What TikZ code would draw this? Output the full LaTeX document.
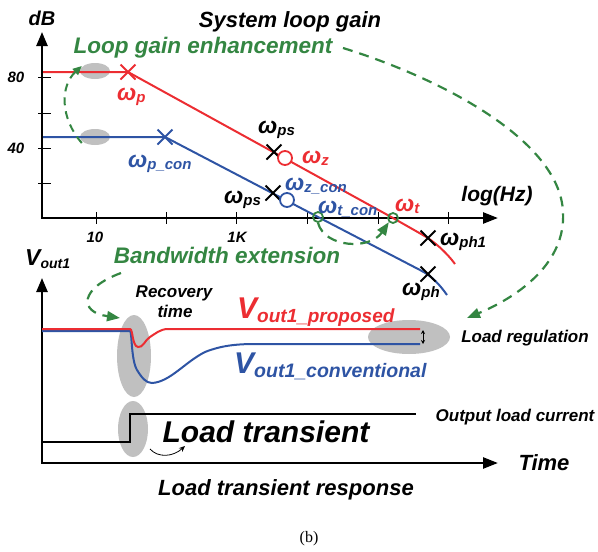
\documentclass[tikz,border=0pt]{standalone}
\usepackage{fontspec}
\setmainfont{Liberation Sans}
\newfontfamily\serifb{Liberation Serif}
\usetikzlibrary{arrows.meta,shapes.geometric,shapes.misc}
\definecolor{cred}{RGB}{236,45,50}
\definecolor{cblue}{RGB}{46,84,164}
\definecolor{cgreen}{RGB}{52,134,66}
\definecolor{cgray}{RGB}{192,192,192}
\newcommand\fs[1]{\fontsize{#1}{#1}\selectfont}
\newcommand\om[1]{{\fs{23}ω}\raisebox{-2.5pt}{\fs{15}#1}}
\begin{document}
\begin{tikzpicture}[x=1pt,y=-1pt,font=\bfseries\itshape,
  every node/.style={inner sep=0pt},
  axis/.style={line width=2.5pt,{Triangle[length=14pt,width=11pt]}-{Triangle[length=15pt,width=11pt]}},
  tickmark/.style={line width=1pt},
  redline/.style={cred,line width=2pt},
  blueline/.style={cblue,line width=2pt},
  gdash/.style={cgreen,line width=2.2pt,dash pattern=on 10pt off 7pt},
  garrow/.style={-{Triangle[length=13pt,width=10pt]}},
  blob/.style={ellipse,fill=cgray,draw=none},
  xmark/.style={cross out,draw,line width=2pt,minimum size=13pt},
  ring/.style={circle,draw,line width=1.8pt,fill=white,minimum size=14pt},
  gring/.style={circle,draw=cgreen,line width=1.8pt,minimum size=10pt},
  lbl/.style={anchor=base},
  lblw/.style={anchor=base west}]
\useasboundingbox (0,0) rectangle (598,552);

% ---------- upper plot ----------
\node[blob,minimum width=30pt,minimum height=16pt] (e1) at (95,71) {};
\node[blob,minimum width=30pt,minimum height=16pt] (e2) at (95,137) {};

\coordinate (Y1) at (42,32);
\coordinate (O1) at (42,218);
\coordinate (X1) at (498,218);
\draw[axis] (Y1) -- (O1) -- (X1);
\foreach \y in {77,113,148,183} \draw[tickmark] (38,\y) -- (51,\y);
\foreach \x in {96,166,236,307,378,448} \draw[tickmark] (\x,212) -- (\x,224);

% red curve
\coordinate (r0) at (43,72);
\coordinate (rp) at (128,72);
\coordinate (rps) at (274,152);
\coordinate (rz) at (285,158);
\coordinate (rt) at (393,218);
\coordinate (rph) at (428,238);
\coordinate (r9) at (455,264);
\draw[redline] (r0) -- (rp) -- (rt) -- (422,234.5) .. controls (434,241) and (447,253) .. (r9);
% blue curve
\coordinate (b0) at (43,137);
\coordinate (bp) at (165,137);
\coordinate (bps) at (273,193);
\coordinate (bz) at (287,200);
\coordinate (bt) at (318,217);
\coordinate (bph) at (428,274);
\coordinate (b9) at (447,295);
\draw[blueline] (b0) -- (bp) -- (bt) -- (420,270) .. controls (432,276) and (440,285) .. (b9);

\node[xmark,draw=cred] (xp) at (rp) {};
\node[xmark,draw=cblue] (xpc) at (bp) {};
\node[xmark] (xps1) at (rps) {};
\node[ring,draw=cred] (cz) at (rz) {};
\node[xmark] (xps2) at (bps) {};
\node[ring,draw=cblue] (czc) at (bz) {};
\node[gring] (ctc) at (bt) {};
\node[gring] (ct) at (rt) {};
\node[xmark] (xph1) at (rph) {};
\node[xmark] (xph) at (bph) {};

% labels
\node[lbl] (dB) at (42,25) {\fs{20}dB};
\node[lbl] (title) at (290,27) {\fs{22}System loop gain};
\node[lbl,text=cgreen] (lge) at (203,53) {\fs{22.5}Loop gain enhancement};
\node[lbl] (t80) at (16,82) {\fs{15}80};
\node[lbl] (t40) at (16,153) {\fs{15}40};
\node[lbl] (t10) at (95,242) {\fs{15}10};
\node[lbl] (t1k) at (237,242) {\fs{15}1K};
\node[lbl] (logHz) at (497,201) {\fs{21}log(Hz)};
\node[lblw,text=cred] (lwp) at (117,100) {\om{p}};
\node[lblw,text=cblue] (lwpc) at (128,167) {\om{p\_con}};
\node[lblw] (lwps1) at (258,133) {\om{ps}};
\node[lblw] (lwps2) at (224,203) {\om{ps}};
\node[lblw,text=cred] (lwz) at (302,163) {\om{z}};
\node[lblw,text=cblue] (lwzc) at (285,190) {\om{z\_con}};
\node[lblw,text=cblue] (lwtc) at (318,213) {\om{t\_con}};
\node[lblw,text=cred] (lwt) at (395,211) {\om{t}};
\node[lblw] (lwph1) at (440,245) {\om{ph1}};
\node[lblw] (lwph) at (402,295) {\om{ph}};
\node[lbl,text=cgreen] (bwe) at (227,263) {\fs{22.5}Bandwidth extension};

% green dashed arrows
\coordinate (ga0) at ([xshift=2pt,yshift=-6pt]e2.west);
\coordinate (ga1) at ([xshift=2pt,yshift=5pt]e1.west);
\draw[cgreen,line width=2pt,dash pattern=on 8pt off 6pt,-{Triangle[length=9pt,width=8pt]}]
  (ga0) .. controls (60,118) and (60,86) .. (ga1);
\draw[gdash,garrow] (ctc.south) .. controls (325,248) and (370,250) .. (ct.south west);
\coordinate (gs) at (343,48);
\coordinate (gm) at (563,212);
\coordinate (ge) at (467,318);
\draw[gdash,garrow] (gs) .. controls (440,78) and (560,140) .. (gm) .. controls (566,262) and (520,296) .. (ge);

% ---------- lower plot ----------
\node[blob,minimum width=34pt,minimum height=82pt] (e3) at (134,356) {};
\node[blob,minimum width=30pt,minimum height=56pt] (e4) at (133,429) {};
\node[blob,minimum width=82pt,minimum height=34pt] (e5) at (409,337) {};

\coordinate (Y2) at (42,278);
\coordinate (O2) at (42,463);
\coordinate (X2) at (498,463);
\draw[axis] (Y2) -- (O2) -- (X2);

\draw[blueline] (42,331) -- (130,331) .. controls (132,331) and (131,360) .. (137,370)
  .. controls (142,378) and (146,383) .. (152,383)
  .. controls (170,382) and (185,362) .. (205,352)
  .. controls (220,346) and (235,344) .. (255,344) -- (420,344);
\draw[redline] (42,329) -- (130,329) .. controls (133,329) and (132,346) .. (138,347)
  .. controls (143,348) and (145,340) .. (150,337)
  .. controls (155,334) and (160,329) .. (168,329) -- (420,329);
\draw[line width=2pt] (42,442) -- (130,442) -- (130,414) -- (416,414);
\coordinate (lr1) at (423,330);
\coordinate (lr2) at (423,344);
\draw[line width=0.8pt,{Stealth[length=4pt,width=4pt]}-{Stealth[length=4pt,width=4pt]}] (lr1) -- (lr2);

\node[lblw] (vout) at (25,265) {{\fs{23}V}\raisebox{-3pt}{\fs{14}out1}};
\node[lbl,font=\bfseries\itshape\fs{17}] (rec) at (174,297) {Recovery};
\node[lbl,font=\bfseries\itshape\fs{17}] (rec2) at (175,317) {time};
\node[lblw,text=cred] (vprop) at (237,318) {{\fs{30}V}\raisebox{-4pt}{\fs{19}out1\_proposed}};
\node[lblw,text=cblue] (vconv) at (234,373) {{\fs{30}V}\raisebox{-4pt}{\fs{19.5}out1\_conventional}};
\node[lbl] (lreg) at (525,342) {\fs{17}Load regulation};
\node[lbl] (olc) at (515,421) {\fs{17}Output load current};
\node[lbl] (lt) at (266,442) {\fs{30}Load transient};
\coordinate (sa0) at (150,449);
\coordinate (sa1) at (185,446);
\draw[line width=0.8pt,-{Stealth[length=6pt,width=5pt]}] (sa0) .. controls (158,458) and (173,457) .. (sa1);
\node[lbl] (time) at (544,470) {\fs{22}Time};
\node[lbl] (ltr) at (286,495) {\fs{22}Load transient response};

\draw[gdash,garrow] (121,273) .. controls (80,288) and (78,312) .. (120,318);

\node[lbl,font=\serifb\fs{16}] (cap) at (309,542) {(b)};
\end{tikzpicture}
\end{document}
